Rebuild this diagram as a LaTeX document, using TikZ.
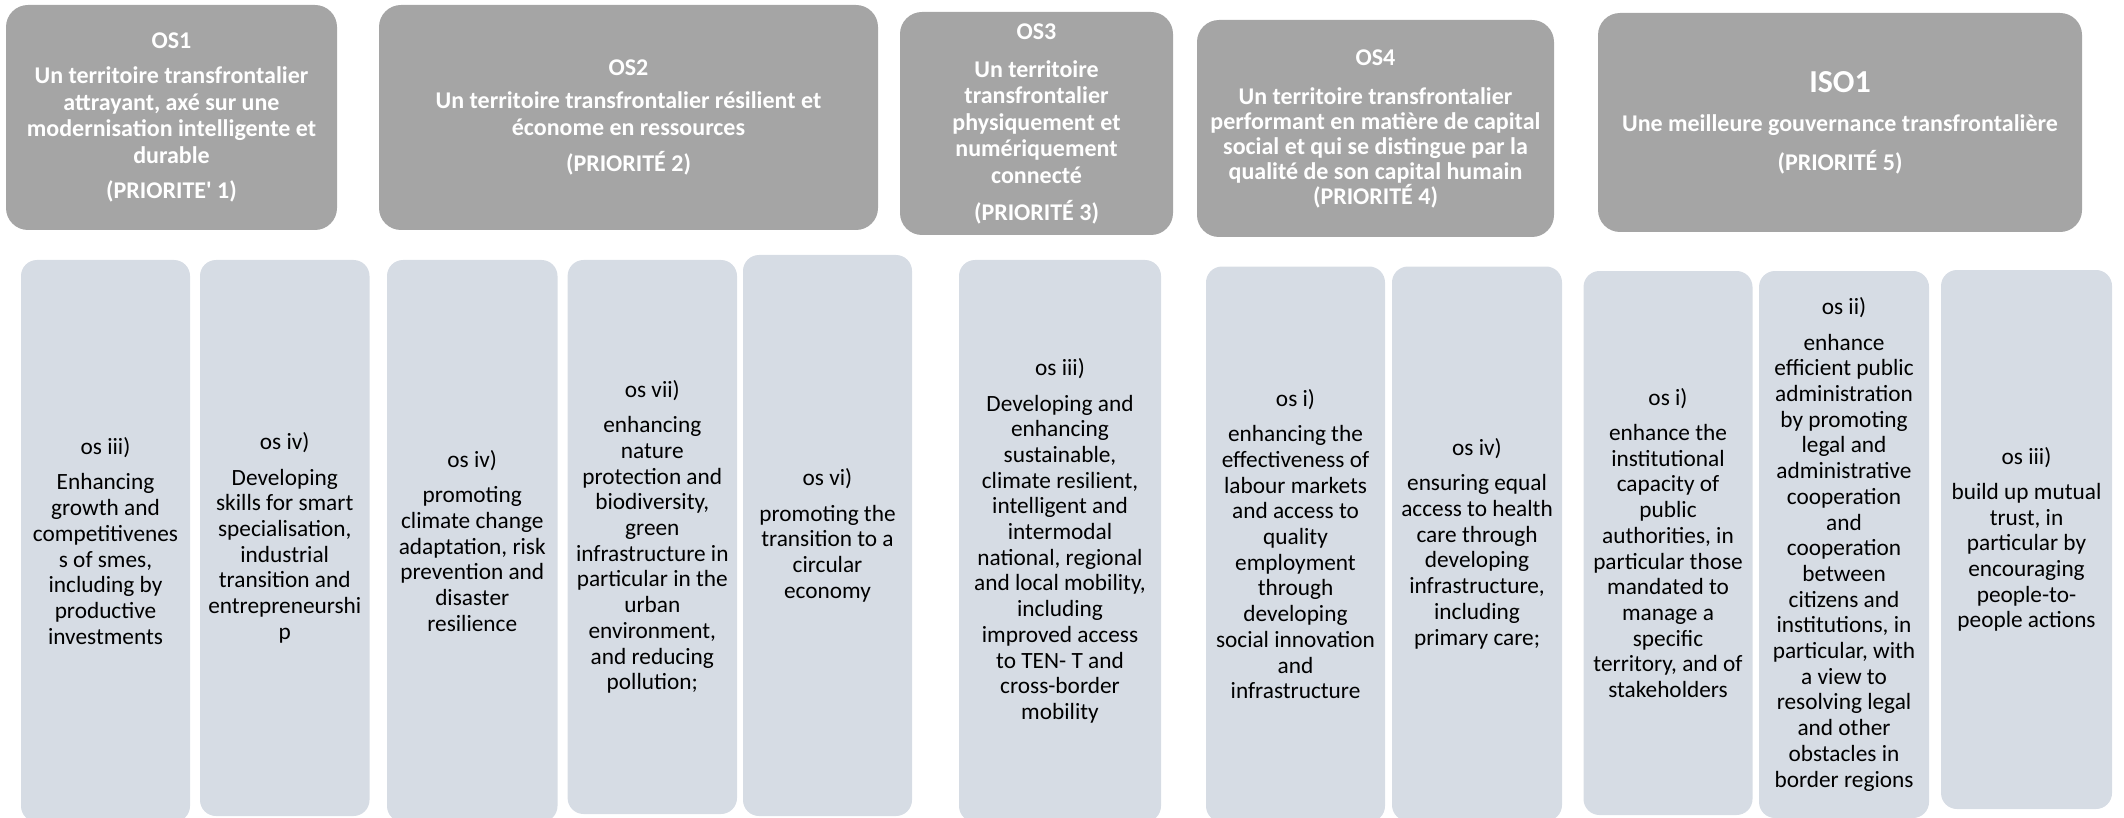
\documentclass[tikz,border=0pt]{standalone}
\usepackage{fontspec}
\setmainfont{Carlito}
\usepackage{tikz}
\usetikzlibrary{positioning}
\definecolor{priogray}{HTML}{A5A5A5}
\definecolor{osblue}{HTML}{D6DCE4}

\begin{document}
\begin{tikzpicture}[x=1pt, y=-1pt,
    prio/.style={fill=priogray, rounded corners=22pt, text=white, align=center, inner sep=0pt,
        font=\bfseries\fontsize{24}{26.5}\selectfont},
    osbox/.style={fill=osblue, rounded corners=16pt, align=center, inner sep=0pt,
        font=\fontsize{23.3}{25.7}\selectfont}]
    \useasboundingbox (0,0) rectangle (2124,818);
    \clip (0,0) rectangle (2124,818);

    \node[prio, minimum width=331pt, minimum height=225pt] (os1) at (171.5,117.5)
        {OS1\\[8.5pt]Un territoire transfrontalier\\attrayant, axé sur une\\modernisation intelligente et\\durable\\[9pt](PRIORITE\textquotesingle\ 1)};
    \node[prio, minimum width=499pt, minimum height=225pt] (os2) at (628.5,117.5)
        {OS2\\[7pt]Un territoire transfrontalier résilient et\\économe en ressources\\[10pt](PRIORITÉ 2)};
    \node[prio, minimum width=273pt, minimum height=223pt] (os3) at (1036.5,123.5)
        {OS3\\[11.5pt]Un territoire\\transfrontalier\\physiquement et\\numériquement\\connecté\\[10.5pt](PRIORITÉ 3)};
    \node[prio, minimum width=357pt, minimum height=217pt, font=\bfseries\fontsize{24}{25}\selectfont] (os4) at (1375.5,128.5)
        {OS4\\[14pt]Un territoire transfrontalier\\performant en matière de capital\\social et qui se distingue par la\\qualité de son capital humain\\(PRIORITÉ 4)};
    \node[prio, minimum width=484pt, minimum height=219pt] (iso1) at (1840,122.5)
        {{\fontsize{32}{36}\selectfont ISO1}\\[13pt]Une meilleure gouvernance transfrontalière\\[12pt](PRIORITÉ 5)};

    \node[osbox, minimum width=169pt, minimum height=562pt] (osiii) at (105.5,541)
        {os iii)\\[9.5pt]Enhancing\\growth and\\competitivenes\\s of smes,\\including by\\productive\\investments};
    \node[osbox, minimum width=169.5pt, minimum height=556pt] (osiv) at (284.75,538)
        {os iv)\\[9.5pt]Developing\\skills for smart\\specialisation,\\industrial\\transition and\\entrepreneurshi\\p};
    \node[osbox, minimum width=170.5pt, minimum height=562pt] (osiva) at (472.25,541)
        {os iv)\\[9.5pt]promoting\\climate change\\adaptation, risk\\prevention and\\disaster\\resilience};
    \node[osbox, minimum width=169.4pt, minimum height=554pt] (osvii) at (652.3,537)
        {os vii)\\[9.5pt]enhancing\\nature\\protection and\\biodiversity,\\green\\infrastructure in\\particular in the\\urban\\environment,\\and reducing\\pollution;};
    \node[osbox, minimum width=169pt, minimum height=561pt] (osvi) at (827.5,535.5)
        {os vi)\\[9.5pt]promoting the\\transition to a\\circular\\economy};
    \node[osbox, minimum width=202pt, minimum height=562pt] (osiiib) at (1060,541)
        {os iii)\\[9.5pt]Developing and\\enhancing\\sustainable,\\climate resilient,\\intelligent and\\intermodal\\national, regional\\and local mobility,\\including\\improved access\\to TEN- T and\\cross-border\\mobility};
    \node[osbox, minimum width=179pt, minimum height=555.5pt] (osi) at (1295.5,544.25)
        {os i)\\[9.5pt]enhancing the\\effectiveness of\\labour markets\\and access to\\quality\\employment\\through\\developing\\social innovation\\and\\infrastructure};
    \node[osbox, minimum width=170pt, minimum height=554.5pt] (osivb) at (1477,543.75)
        {os iv)\\[9.5pt]ensuring equal\\access to health\\care through\\developing\\infrastructure,\\including\\primary care;};
    \node[osbox, minimum width=169pt, minimum height=544pt] (osia) at (1668,543)
        {os i)\\[9.5pt]enhance the\\institutional\\capacity of\\public\\authorities, in\\particular those\\mandated to\\manage a\\specific\\territory, and of\\stakeholders};
    \node[osbox, minimum width=170pt, minimum height=547pt] (osii) at (1844,544.5)
        {os ii)\\[9.5pt]enhance\\efficient public\\administration\\by promoting\\legal and\\administrative\\cooperation\\and\\cooperation\\between\\citizens and\\institutions, in\\particular, with\\a view to\\resolving legal\\and other\\obstacles in\\border regions};
    \node[osbox, minimum width=171pt, minimum height=539pt] (osiiic) at (2026.5,539.5)
        {os iii)\\[9.5pt]build up mutual\\trust, in\\particular by\\encouraging\\people-to-\\people actions};
\end{tikzpicture}
\end{document}
